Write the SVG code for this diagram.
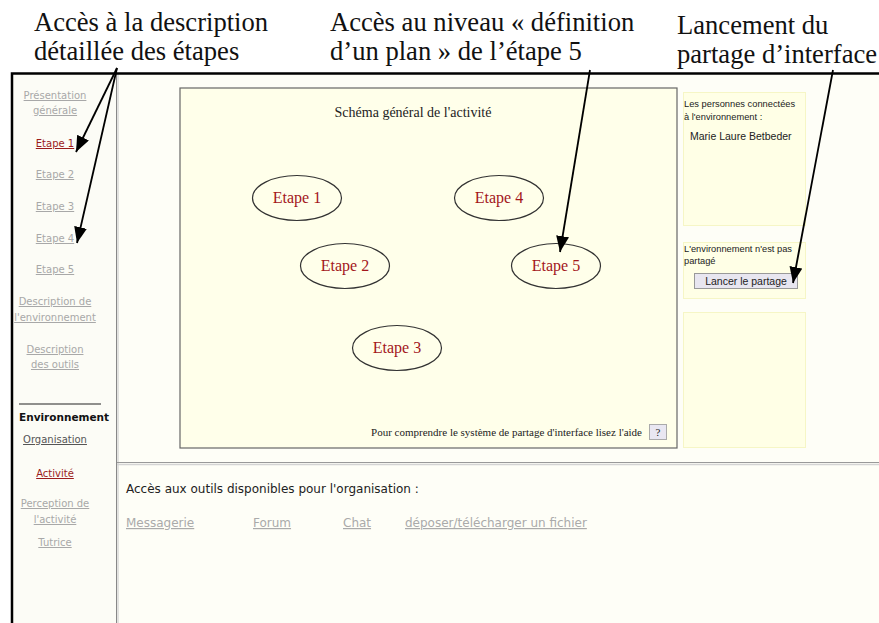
<svg xmlns="http://www.w3.org/2000/svg" width="879" height="623" viewBox="0 0 879 623">
<style>
.ann{font-family:"Liberation Serif","Times New Roman",serif;font-size:26.6px;fill:#111}
.side{font-family:"DejaVu Sans",Verdana,sans-serif;font-size:10px;text-anchor:middle;fill:#a8a8a8;text-decoration:underline}
.red{fill:#9b1c1c}
.dark{fill:#555}
.et{font-family:"Liberation Serif","Times New Roman",serif;font-size:16px;fill:#a3161c;text-anchor:middle}
.ell{fill:none;stroke:#333;stroke-width:1.2}
.ser{font-family:"Liberation Serif","Times New Roman",serif;fill:#222}
.ar{font-family:"Liberation Sans",Arial,sans-serif;fill:#222}
.box{fill:#ffffe6;stroke:#f6f6c6;stroke-width:1}
.bt{font-family:"DejaVu Sans",Verdana,sans-serif;font-size:12px}
.lnk{fill:#aaa;text-decoration:underline}
.conn{stroke:#000;stroke-width:1.8;fill:none;marker-end:url(#ah)}
</style>
<defs>
<marker id="ah" viewBox="0 0 16 13" refX="16" refY="6.5" markerWidth="16" markerHeight="13" markerUnits="userSpaceOnUse" orient="auto">
<path d="M0,0 L16,6.5 L0,13 z" fill="#000"/>
</marker>
</defs>
<rect width="879" height="623" fill="#fff"/>
<!-- screenshot background -->
<rect x="13" y="74" width="866" height="549" fill="#fefef7"/>
<rect x="13" y="74" width="103" height="549" fill="#fcfcf6"/>
<line x1="116.5" y1="74" x2="116.5" y2="623" stroke="#888" stroke-width="1"/>
<line x1="118" y1="74" x2="118" y2="623" stroke="#d8d8d8" stroke-width="1.5"/>
<line x1="117" y1="462.5" x2="879" y2="462.5" stroke="#999" stroke-width="1"/>
<line x1="117" y1="464.5" x2="879" y2="464.5" stroke="#d4d4d4" stroke-width="1.5"/>
<!-- frame -->
<path d="M12,623 V73.5 H879" fill="none" stroke="#000" stroke-width="2.5"/>

<!-- annotations -->
<g id="ann-etapes">
<text class="ann" x="34" y="31">Accès à la description</text>
<text class="ann" x="34" y="60">détaillée des étapes</text>
</g>
<g id="ann-plan">
<text class="ann" x="330" y="31">Accès au niveau « définition</text>
<text class="ann" x="330" y="60">d’un plan » de l’étape 5</text>
</g>
<g id="ann-partage">
<text class="ann" x="677" y="34">Lancement du</text>
<text class="ann" x="677" y="63">partage d’interface</text>
</g>

<!-- sidebar -->
<g id="sidebar">
<text class="side" x="55" y="99">Présentation</text>
<text class="side" x="55" y="114">générale</text>
<text class="side red" x="55" y="147">Etape 1</text>
<text class="side" x="55" y="178">Etape 2</text>
<text class="side" x="55" y="210">Etape 3</text>
<text class="side" x="55" y="242">Etape 4</text>
<text class="side" x="55" y="273">Etape 5</text>
<text class="side" x="55" y="305">Description de</text>
<text class="side" x="55" y="321">l'environnement</text>
<text class="side" x="55" y="353">Description</text>
<text class="side" x="55" y="368">des outils</text>
<line x1="19" y1="404" x2="101" y2="404" stroke="#222" stroke-width="1"/>
<text x="19" y="421" font-family="DejaVu Sans,Verdana,sans-serif" font-size="10.5" font-weight="bold" fill="#111">Environnement</text>
<text class="side dark" x="55" y="443">Organisation</text>
<text class="side red" x="55" y="477">Activité</text>
<text class="side" x="55" y="507">Perception de</text>
<text class="side" x="55" y="523">l'activité</text>
<text class="side" x="55" y="546">Tutrice</text>
</g>

<!-- center panel -->
<g id="panel">
<rect x="180" y="88" width="497" height="360" fill="#ffffea" stroke="#666" stroke-width="1.2"/>
<text class="ser" x="413" y="117" font-size="14" text-anchor="middle">Schéma général de l'activité</text>
<text class="ser" x="642" y="436" font-size="11" text-anchor="end">Pour comprendre le système de partage d'interface lisez l'aide</text>
<rect x="649.5" y="424.5" width="17" height="15" fill="#e9e7f2" stroke="#aaa"/>
<text class="ser" x="658" y="436" font-size="11" text-anchor="middle">?</text>
</g>
<g id="etape1"><ellipse class="ell" cx="297" cy="198" rx="44.5" ry="22.5"/><text class="et" x="297" y="203">Etape 1</text></g>
<g id="etape4"><ellipse class="ell" cx="499" cy="198" rx="44.5" ry="22.5"/><text class="et" x="499" y="203">Etape 4</text></g>
<g id="etape2"><ellipse class="ell" cx="345" cy="266" rx="44.5" ry="22.5"/><text class="et" x="345" y="271">Etape 2</text></g>
<g id="etape5"><ellipse class="ell" cx="556" cy="266" rx="44.5" ry="22.5"/><text class="et" x="556" y="271">Etape 5</text></g>
<g id="etape3"><ellipse class="ell" cx="397" cy="348" rx="44.5" ry="22.5"/><text class="et" x="397" y="353">Etape 3</text></g>

<!-- right panel -->
<g id="connected">
<rect class="box" x="683.5" y="92.5" width="122" height="133"/>
<text class="ar" x="684" y="107" font-size="9.3">Les personnes connectées</text>
<text class="ar" x="684" y="120" font-size="9.3">à l'environnement :</text>
<text class="ar" x="690" y="140" font-size="10.5">Marie Laure Betbeder</text>
</g>
<g id="share">
<rect class="box" x="683.5" y="242.5" width="122" height="56"/>
<text class="ar" x="684" y="252" font-size="9.3">L'environnement n'est pas</text>
<text class="ar" x="684" y="264" font-size="9.3">partagé</text>
<rect x="694.5" y="273.5" width="103" height="15" fill="#e8e6f0" stroke="#999"/>
<text class="ar" x="746" y="285" font-size="10.5" text-anchor="middle">Lancer le partage</text>
</g>
<g id="emptybox">
<rect class="box" x="683.5" y="312.5" width="122" height="135"/>
</g>

<!-- bottom tools -->
<g id="tools" class="bt">
<text x="126" y="493" fill="#222">Accès aux outils disponibles pour l'organisation :</text>
<text class="lnk" x="126" y="527">Messagerie</text>
<text class="lnk" x="253" y="527">Forum</text>
<text class="lnk" x="343" y="527">Chat</text>
<text class="lnk" x="405" y="527">déposer/télécharger un fichier</text>
</g>

<!-- connectors -->
<g id="connectors">
<line class="conn" x1="117" y1="68" x2="76" y2="152"/>
<line class="conn" x1="117" y1="68" x2="77" y2="243"/>
<line class="conn" x1="590" y1="70" x2="560" y2="252"/>
<line class="conn" x1="833" y1="70" x2="793" y2="283"/>
</g>
</svg>
